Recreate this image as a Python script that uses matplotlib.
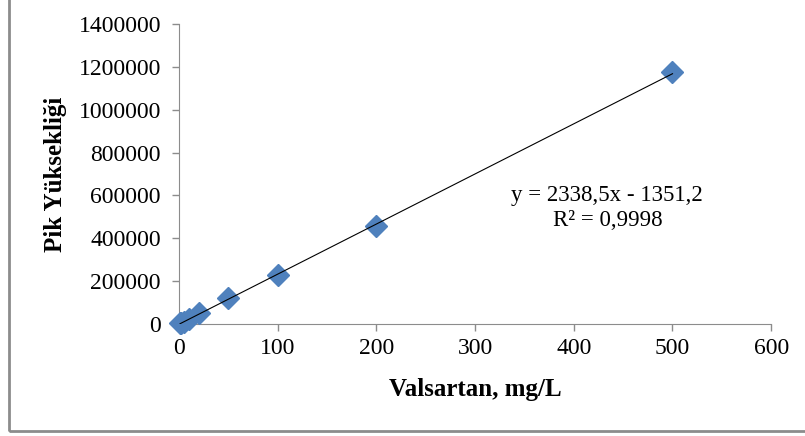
import matplotlib.pyplot as plt
from matplotlib.patches import Rectangle
from matplotlib.ticker import FuncFormatter

# calibration data
conc = [1, 2, 5, 10, 20, 50, 100, 200, 500]              # Valsartan, mg/L
peak = [2300, 4500, 11000, 23500, 50000, 121000, 229000, 455000, 1175000]
slope = 2338.5
intercept = -1351.2
eq_text = "y = 2338,5x - 1351,2"
r2_text = "R² = 0,9998"

plt.rcParams['font.family'] = ['Liberation Serif', 'DejaVu Serif']

fig = plt.figure(figsize=(8.05, 4.36), dpi=100)
ax = fig.add_axes([0.2224, 0.257, 0.7356, 0.688])

# outer chart border
fig.patches.append(Rectangle((9 / 805, 5 / 436), 1.0, 1.0, transform=fig.transFigure,
                             fill=False, edgecolor="#8c8c8c", linewidth=2.0))

ax.plot(conc, peak, linestyle="none", marker="D", markersize=11, color="#4f81bd",
        zorder=3, clip_on=False)
xfit = [min(conc), max(conc)]
yfit = [slope * v + intercept for v in xfit]
ax.plot(xfit, yfit, color="black", linewidth=0.8, zorder=4)

ax.set_xlim(0, 600)
ax.set_ylim(0, 1400000)
ax.set_xticks(range(0, 601, 100))
ax.set_yticks(range(0, 1400001, 200000))
ax.yaxis.set_major_formatter(FuncFormatter(lambda v, p: f"{int(v)}"))
ax.tick_params(labelsize=17, colors="#8c8c8c", labelcolor="black", length=5, width=1)
ax.tick_params(axis="y", pad=8)
ax.tick_params(axis="x", pad=5)

for s in ["top", "right"]:
    ax.spines[s].set_visible(False)
for s in ["left", "bottom"]:
    ax.spines[s].set_color("#8c8c8c")

ax.set_xlabel("Valsartan, mg/L", fontsize=18, fontweight="bold", labelpad=14)
ax.set_ylabel("Pik Yüksekliği", fontsize=18, fontweight="bold", labelpad=8)

ax.text(434, 540000, eq_text + "\n" + r2_text, fontsize=16.5,
        ha="center", va="center", linespacing=1.25)

fig.savefig("out.png", dpi=100)
